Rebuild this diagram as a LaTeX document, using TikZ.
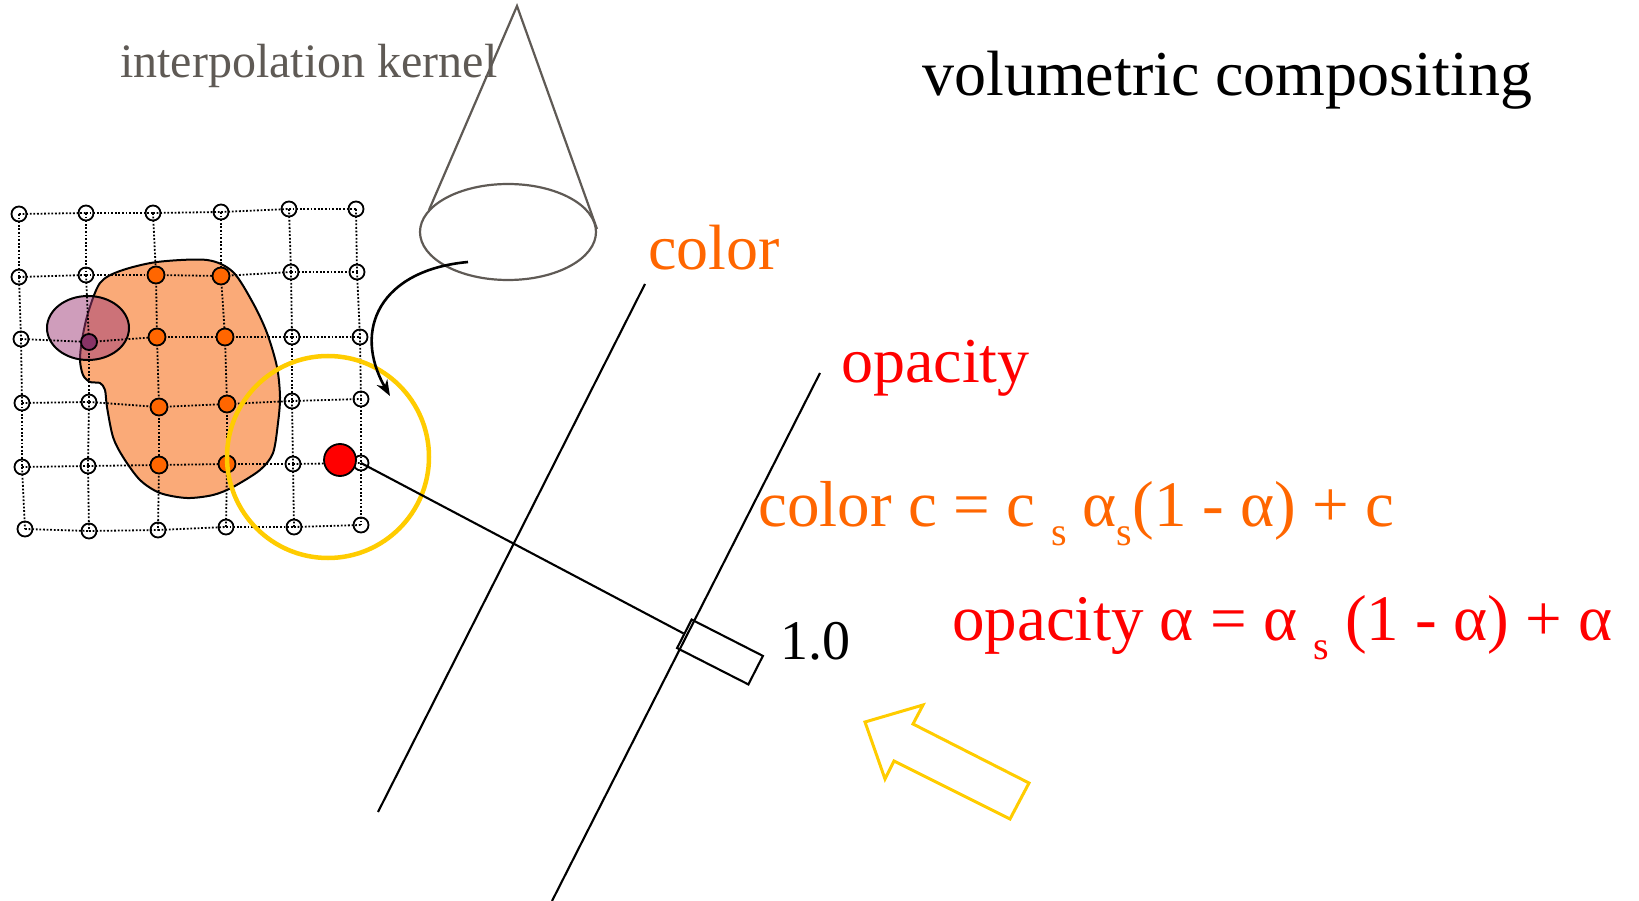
\documentclass[tikz,border=0pt]{standalone}
\usepackage{fontspec}
\setmainfont{Liberation Serif}
\usetikzlibrary{arrows.meta}
\definecolor{kernelgray}{RGB}{95,90,85}
\definecolor{comporange}{RGB}{255,102,0}
\definecolor{blobfill}{RGB}{250,170,120}
\definecolor{lensyellow}{RGB}{255,204,0}
\definecolor{kernelpurple}{RGB}{160,60,120}
\tikzset{
	sample/.style={circle,draw,line width=1.8pt,minimum size=15pt,inner sep=0pt},
	hit/.style={sample,fill=comporange,minimum size=17pt},
	gridline/.style={line width=1.8pt,dash pattern=on 1.8pt off 1.8pt},
	label64/.style={anchor=base west,inner sep=0pt,font=\fontsize{64}{70}\selectfont},
	axisline/.style={line width=2.1pt},
}
\newcommand{\subs}{\raisebox{-0.3em}{\fontsize{40}{40}\selectfont s}}
\begin{document}
\begin{tikzpicture}[x=1pt,y=-1pt]
	\useasboundingbox (0,0) rectangle (1639,901);
	\draw[fill=blobfill,line width=2pt] plot[smooth cycle] coordinates {(100,283) (120,271) (157,262) (207,260) (233,272) (253,303) (267,333) (277,367) (280,397) (278,423) (273,453) (260,470) (233,487) (213,495) (187,498) (160,493) (140,480) (123,457) (113,437) (107,407) (105,390) (100,383) (90,382) (83,375) (80,360) (82,340) (88,313)};
	\draw[fill=kernelpurple,fill opacity=0.5,line width=2pt] (88,328) ellipse [x radius=41pt,y radius=32pt];
	\foreach \n/\x/\y in {11/19/214,12/86/213,13/153/213,14/221/212,15/289/209,16/356/209,
		21/19/277,22/86/275,23/156/275,24/221/276,25/291/272,26/357/272,
		31/21/339,32/89/342,33/157/337,34/225/337,35/292/337,36/360/337,
		41/22/403,42/89/402,43/159/407,44/227/404,45/292/401,46/361/399,
		51/22/467,52/88/466,53/159/465,54/227/464,55/293/464,56/361/463,
		61/25/529,62/89/531,63/158/530,64/226/527,65/294/527,66/361/525}
		\coordinate (g\n) at (\x,\y);
	\foreach \r in {1,...,6}
		\foreach \c [count=\n from 2] in {1,...,5}
			\draw[gridline] (g\r\c) -- (g\r\n);
	\foreach \c in {1,...,6}
		\foreach \r [count=\n from 2] in {1,...,5}
			\draw[gridline] (g\r\c) -- (g\n\c);
	\foreach \r in {1,...,6}
		\foreach \c in {1,...,6}
			\node[sample] (s\r\c) at (g\r\c) {};
	\foreach \p in {23,24,33,34,43,44,53,54}
		\node[hit] (h\p) at (g\p) {};
	\node[sample,fill=kernelpurple!85!black,minimum size=16pt] (centre) at (g32) {};
	\node[circle,draw=lensyellow,line width=4.5pt,minimum size=202pt,inner sep=0pt] (lens) at (328,457) {};
	\node[circle,draw,fill=red,line width=1.8pt,minimum size=32pt,inner sep=0pt] (point) at (340,460) {};
	\coordinate (apex) at (517,6);
	\draw[kernelgray,line width=2.2pt] (429,210) -- (apex) -- (597,229);
	\draw[kernelgray,line width=2.2pt] (508,232) ellipse [x radius=88pt,y radius=48pt];
	\coordinate (from) at (468,262);
	\coordinate (to) at (390,396);
	\draw[-{Stealth[length=16pt,width=12pt]},line width=2.6pt] (from) .. controls (380,270) and (352,330) .. (to);
	\draw[axisline] (645,284) -- (378,812);
	\draw[axisline] (820,373) -- (552,901);
	\node[draw,line width=2.1pt,rotate=-27,minimum width=80pt,minimum height=32pt,inner sep=0pt] (box) at (720,652) {};
	\draw[axisline] (g56) -- (box.west);
	\draw[lensyellow,line width=3pt] (865,722) -- (923,705) -- (913,724) -- (1029,783) -- (1010,819) -- (894,761) -- (885,779) -- cycle;
	\node[label64,kernelgray,font=\fontsize{48}{52}\selectfont] (kernel) at (120,78) {interpolation kernel};
	\node[label64] (title) at (922,96) {volumetric compositing};
	\node[label64,comporange] (color) at (648,270) {color};
	\node[label64,red] (opacity) at (841,382) {opacity};
	\node[label64,comporange,font=\fontsize{65}{70}\selectfont] (ceq) at (758,526) {color c = c \subs\ α\subs(1 - α) + c};
	\node[label64,red,font=\fontsize{65}{70}\selectfont] (aeq) at (952,640) {opacity α = α \subs\ (1 - α) + α};
	\node[label64,font=\fontsize{56}{62}\selectfont] (one) at (780,659) {1.0};
\end{tikzpicture}
\end{document}
